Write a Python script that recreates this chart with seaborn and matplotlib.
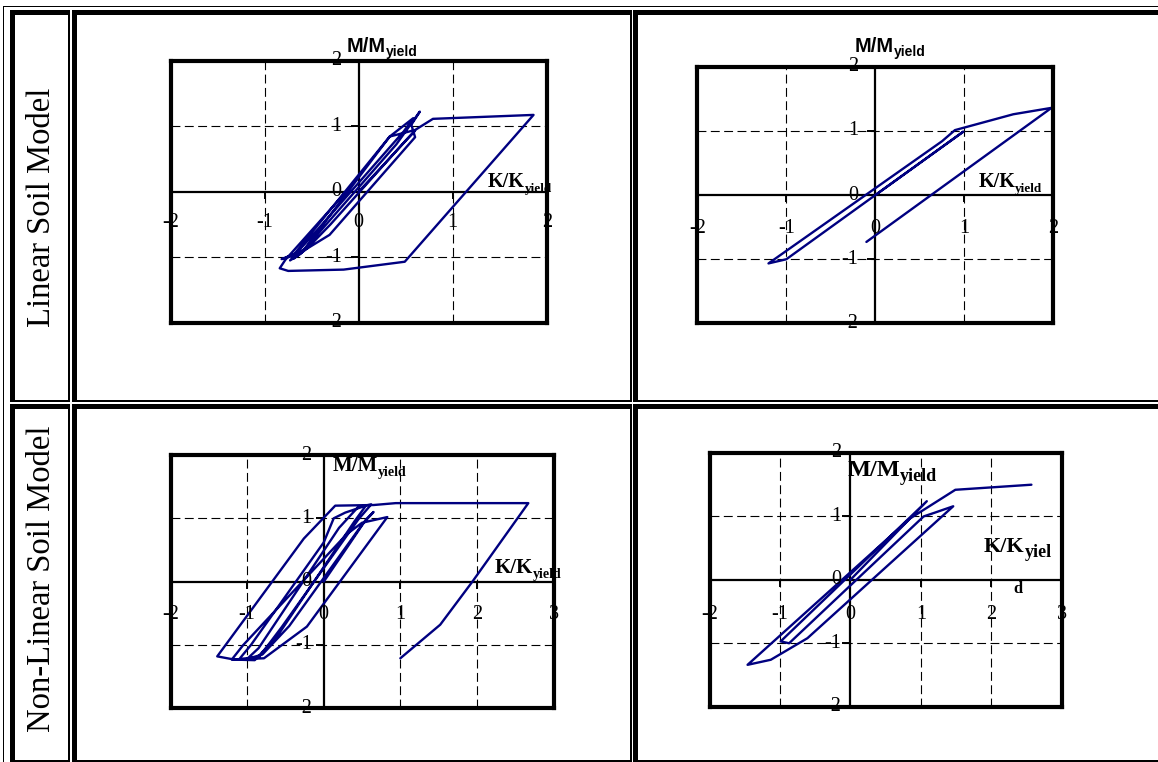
import matplotlib
matplotlib.use("Agg")
import matplotlib.pyplot as plt
from matplotlib.patches import Rectangle
from matplotlib.transforms import offset_copy
import seaborn as sns

W, H = 1158, 762

# Moment-curvature histories (K/Kyield, M/Myield)
lin_pile1_k = [0.00, 0.40, 0.60, 0.50, -0.30, -0.55, -0.69, -0.60, 0.33, 0.58, 0.48, -0.45, -0.73, -0.62,
               0.40, 0.65, 0.56, 0.60, -0.31, -0.55, -0.82, -0.70, 0.33, 0.60, 0.79, 1.86, 0.49, -0.16,
               -0.75, -0.84, -0.78, -0.12]
lin_pile1_m = [0.00, 0.62, 0.93, 0.78, -0.50, -0.87, -1.02, -0.92, 0.84, 1.12, 0.92, -0.60, -1.05, -0.95,
               0.72, 1.22, 1.02, 0.83, -0.66, -0.87, -1.03, -0.98, 0.84, 0.94, 1.11, 1.17, -1.07, -1.19,
               -1.21, -1.17, -1.04, 0.02]

lin_pile2_k = [0.00, 0.99, -1.00, -1.20, 0.75, 0.895, 1.55, 1.98, -0.10]
lin_pile2_m = [0.00, 0.99, -1.00, -1.065, 0.84, 1.013, 1.26, 1.36, -0.73]

nl_pile1_k = [0.00, 0.35, 0.55, 0.65, 0.50, -0.45, -0.80, -1.00, -0.85, 0.20, 0.45, 0.62, 0.45, -0.55,
              -0.85, -1.10, -0.95, 0.00, 0.13, 0.28, 0.55, 0.40, -0.60, -0.90, -1.20, -1.05, 0.30, 0.50,
              0.83, -0.22, -0.78, -1.17, -1.39, -0.26, 0.15, 0.65, 0.94, 2.67, 1.94, 1.52, 1.00]
nl_pile1_m = [0.00, 0.62, 0.98, 1.10, 0.90, -0.70, -1.15, -1.22, -1.05, 0.85, 1.18, 1.22, 0.98, -0.72,
              -1.20, -1.22, -1.00, 0.62, 1.00, 1.09, 1.20, 0.95, -0.85, -1.24, -1.23, -1.00, 0.75, 0.93,
              1.02, -0.71, -1.21, -1.23, -1.18, 0.68, 1.20, 1.21, 1.24, 1.24, 0.00, -0.68, -1.21]

nl_pile2_k = [0.00, 1.085, -0.99, -0.87, 1.04, 1.20, 1.46, -0.61, -1.13, -1.46, 0.85, 1.49, 2.57]
nl_pile2_m = [0.00, 1.24, -0.97, -1.00, 1.00, 1.06, 1.16, -0.92, -1.26, -1.34, 0.97, 1.42, 1.50]

row_labels = ["Linear Soil Model", "Non-Linear Soil Model"]
x_ticks_4 = [-2, -1, 0, 1, 2]
x_ticks_5 = [-2, -1, 0, 1, 2, 3]
y_ticks = [-2, -1, 0, 1, 2]

NAVY = "#000080"

sns.set_style("white")
plt.rcParams["font.family"] = ["Liberation Serif", "DejaVu Serif"]
plt.rcParams["text.color"] = "black"

fig = plt.figure(figsize=(W / 100, H / 100), dpi=100)
fig.patch.set_facecolor("white")


def px_rect(x0, y0, x1, y1):
    fig.add_artist(Rectangle((x0 / W, 1 - y1 / H), (x1 - x0) / W, (y1 - y0) / H,
                             transform=fig.transFigure, facecolor="black",
                             edgecolor="none", zorder=10))


# table outline
px_rect(2.5, 5.5, W, 7.0)
px_rect(2.5, 5.5, 4.0, H)
for (cx0, cx1) in [(10, 69.5), (72, 631.5), (633, 1170)]:
    for (cy0, cy1) in [(10, 401.5), (404, 761.5)]:
        px_rect(cx0, cy0, cx1, cy0 + 4.5)
        px_rect(cx0, cy0, cx0 + 4.5, cy1)
        px_rect(cx1 - 1.5, cy0, cx1, cy1)
        px_rect(cx0, cy1 - 1.5, cx1, cy1)

fig.text(42 / W, 1 - 207 / H, row_labels[0], rotation=90, ha="center", va="center",
         fontsize=23.5, fontfamily="Liberation Serif", color="black")
fig.text(42 / W, 1 - 579 / H, row_labels[1], rotation=90, ha="center", va="center",
         fontsize=23.5, fontfamily="Liberation Serif", color="black")


def titled(ax, x, y, main, sub, family, size, subsize):
    t = ax.text(x, y, main, fontfamily=family, fontweight="bold", fontsize=size,
                ha="left", va="baseline", zorder=4, color="black")
    ax.annotate(sub, xy=(1, 0), xycoords=t, xytext=(0, 0), textcoords="offset points",
                fontfamily=family, fontweight="bold", fontsize=subsize, color="black",
                ha="left", va="baseline", zorder=4, annotation_clip=False)


def panel(box, k, m, xt, xdrop, yshift):
    x0, y0, x1, y1 = box
    ax = fig.add_axes([x0 / W, 1 - y1 / H, (x1 - x0) / W, (y1 - y0) / H])
    ax.set_xlim(xt[0], xt[-1])
    ax.set_ylim(-2, 2)
    ax.set_xticks([])
    ax.set_yticks([])
    ax.set_facecolor("white")
    for s in ax.spines.values():
        s.set_linewidth(3.0)
        s.set_color("black")
        s.set_zorder(6)
    for v in xt[1:-1]:
        if v != 0:
            ax.axvline(v, color="black", lw=0.8, dashes=(8, 4), zorder=1)
    for v in y_ticks[1:-1]:
        if v != 0:
            ax.axhline(v, color="black", lw=0.8, dashes=(8, 4), zorder=1)
    ax.axhline(0, color="black", lw=1.6, zorder=2)
    ax.axvline(0, color="black", lw=1.6, zorder=2)
    ax.plot(xt[1:-1], [0] * (len(xt) - 2), ls="none", marker=3, ms=5, mew=1.4,
            color="black", zorder=2)
    ax.plot([0] * 3, y_ticks[1:-1], ls="none", marker=0, ms=6, mew=1.4,
            color="black", zorder=2)
    trx = offset_copy(ax.transData, fig=fig, x=0, y=-xdrop, units="dots")
    for v in xt:
        ax.text(v, 0, f"{v}", transform=trx, ha="center", va="center", fontsize=14.5,
                fontfamily="Liberation Serif", zorder=4, color="black")
    try_ = offset_copy(ax.transData, fig=fig, x=-yshift, y=0, units="dots")
    for v in y_ticks:
        ax.text(0, v, f"{v}", transform=try_, ha="right", va="center", fontsize=14.5,
                fontfamily="Liberation Serif", zorder=4, color="black")
    sns.lineplot(x=k, y=m, sort=False, estimator=None, color=NAVY, linewidth=1.7,
                 ax=ax, zorder=3)
    ax.set_xlabel("")
    ax.set_ylabel("")
    return ax


ax1 = panel((170.7, 60.5, 546.7, 322.7), lin_pile1_k, lin_pile1_m, x_ticks_4, 31, 17)
titled(ax1, -0.124, 2.13, "M/M", "yield", "Liberation Sans", 14.5, 10)
titled(ax1, 1.376, 0.076, "K/K", "yield", "Liberation Serif", 14.5, 9.5)

ax2 = panel((697.3, 66.8, 1053.3, 323.4), lin_pile2_k, lin_pile2_m, x_ticks_4, 33, 17)
titled(ax2, -0.228, 2.23, "M/M", "yield", "Liberation Sans", 14.5, 10)
titled(ax2, 1.157, 0.129, "K/K", "yield", "Liberation Serif", 14.5, 9.5)

ax3 = panel((170.5, 455.0, 553.6, 708.3), nl_pile1_k, nl_pile1_m, x_ticks_5, 33, 12)
titled(ax3, 0.11, 1.74, "M/M", "yield", "Liberation Serif", 15, 10)
titled(ax3, 2.232, 0.133, "K/K", "yield", "Liberation Serif", 15, 10)

ax4 = panel((709.5, 453.0, 1061.7, 706.7), nl_pile2_k, nl_pile2_m, x_ticks_5, 35, 9)
titled(ax4, -0.047, 1.64, "M/M", "yield", "Liberation Serif", 17.5, 13)
titled(ax4, 1.894, 0.446, "K/K", "yiel", "Liberation Serif", 16, 13)
ax4.text(2.32, -0.21, "d", fontfamily="Liberation Serif", fontweight="bold", fontsize=12,
         ha="left", va="baseline", zorder=4, color="black")

fig.savefig("out.png", dpi=100, facecolor="white")
